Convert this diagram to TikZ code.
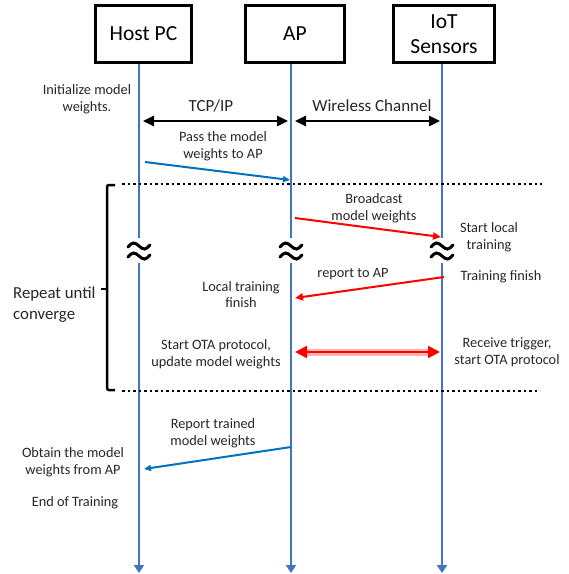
\documentclass[tikz,border=0pt]{standalone}
\usepackage{fontspec}
\setmainfont{Carlito}
\usepackage{tikz}
\usetikzlibrary{arrows.meta,positioning}
\definecolor{lifeblue}{HTML}{4472C4}
\definecolor{msgblue}{HTML}{0070C0}
\definecolor{msgred}{HTML}{FF0000}
\definecolor{txtgray}{HTML}{262626}

\begin{document}
\begin{tikzpicture}[x=1pt,y=-1pt,
  actor/.style={draw, line width=3pt, minimum height=57pt, align=center, inner sep=0pt, font=\fontsize{21.5}{25}\selectfont},
  lab/.style={font=\fontsize{14.3}{16.8}\selectfont, align=center, text=txtgray, inner sep=0pt},
  chan/.style={font=\fontsize{17}{19}\selectfont, inner sep=0pt, text=txtgray},
  life/.style={draw=lifeblue, line width=2.8pt},
  wire/.style={{Triangle[length=11pt,width=10pt]}-{Triangle[length=11pt,width=10pt]}, line width=2.5pt},
  bmsg/.style={-{Triangle[length=7pt,width=6pt]}, msgblue, line width=2pt},
  rmsg/.style={-{Triangle[length=8pt,width=7pt]}, msgred, line width=2pt},
  sepline/.style={line width=2.5pt, dash pattern=on 2.5pt off 3pt},
  wavy/.style={line width=3pt, line cap=round}
]
\useasboundingbox (0,0) rectangle (569,574);

\node[actor, minimum width=96pt] (host) at (143.5,34) {Host PC};
\node[actor, minimum width=99pt] (ap) at (295,34) {AP};
\node[actor, minimum width=101pt] (iot) at (444,34) {IoT\\Sensors};

\foreach \nm/\xx in {host/139,ap/291,iot/442} {
  \coordinate (\nm-top) at (\xx,64);
  \coordinate (\nm-cut) at (\xx,238);
  \coordinate (\nm-resume) at (\xx,263);
  \coordinate (\nm-bottom) at (\xx,573);
  \draw[life] (\nm-top) -- (\nm-cut);
  \draw[life, -{Triangle[length=8pt,width=10pt]}] (\nm-resume) -- (\nm-bottom);
  \foreach \yy in {246,256}
    \draw[wavy] (\xx-11,\yy+1) sin (\xx-5.5,\yy-3) cos (\xx,\yy) sin (\xx+5.5,\yy+3) cos (\xx+11,\yy-1);
}

\node[lab] (init) at (87,99) {Initialize model\\weights.};
\node[chan] (tcp) at (211,106) {TCP/IP};
\node[chan] (wl) at (372,106) {Wireless Channel};
\coordinate (tcp-l) at (143,121);
\coordinate (tcp-r) at (288,121);
\coordinate (wl-l) at (295,121);
\coordinate (wl-r) at (440,121);
\draw[wire] (tcp-l) -- (tcp-r);
\draw[wire] (wl-l) -- (wl-r);

\node[lab] (pass) at (223,146.5) {Pass the model\\weights to AP};
\coordinate (pass-s) at (145,162);
\coordinate (pass-e) at (290,180);
\draw[bmsg] (pass-s) -- (pass-e);

% repeated part
\coordinate (sepa-l) at (122,184);
\coordinate (sepa-r) at (542,184);
\coordinate (sepb-l) at (122,391);
\coordinate (sepb-r) at (540,391);
\draw[sepline] (sepa-l) -- (sepa-r);
\draw[sepline] (sepb-l) -- (sepb-r);
\draw[line width=2.5pt, rounded corners=2pt] (115,185) -- (107,185) -- (107,390) -- (115,390);
\draw[line width=2.5pt] (107,289) -- (101,289);
\node[font=\fontsize{16.8}{21}\selectfont, align=left, text=txtgray, inner sep=0pt, anchor=west] (rep) at (13,304.5) {Repeat until\\converge};

\node[lab] (bc) at (374,208) {Broadcast\\model weights};
\coordinate (bc-s) at (295,218);
\coordinate (bc-e) at (441,237);
\draw[rmsg] (bc-s) -- (bc-e);
\node[lab] (stl) at (489,237) {Start local\\training};

\node[lab] (rta) at (353,274) {report to AP};
\node[lab] (tf) at (501,277) {Training finish};
\node[lab] (ltf) at (241,294.5) {Local training\\finish};
\coordinate (rta-s) at (444,277);
\coordinate (rta-e) at (295,298);
\draw[rmsg] (rta-s) -- (rta-e);

\node[lab] (ota) at (216,354) {Start OTA protocol,\\update model weights};
\node[lab] (rt) at (507,352) {Receive trigger,\\start OTA protocol};
\coordinate (ota-l) at (295,352);
\coordinate (ota-r) at (440,352);
\draw[red!30, line width=7pt, shorten <=10pt, shorten >=10pt] (ota-l) -- (ota-r);
\draw[msgred, line width=2pt, {Triangle[length=12pt,width=12pt]}-{Triangle[length=12pt,width=12pt]}] (ota-l) -- (ota-r);

\node[lab] (rtw) at (213,433.5) {Report trained\\model weights};
\coordinate (rtw-s) at (291,447);
\coordinate (rtw-e) at (144,469);
\draw[bmsg] (rtw-s) -- (rtw-e);
\node[lab] (obt) at (73,462) {Obtain the model\\weights from AP};
\node[lab] (fin) at (75,503) {End of Training};
\end{tikzpicture}
\end{document}
